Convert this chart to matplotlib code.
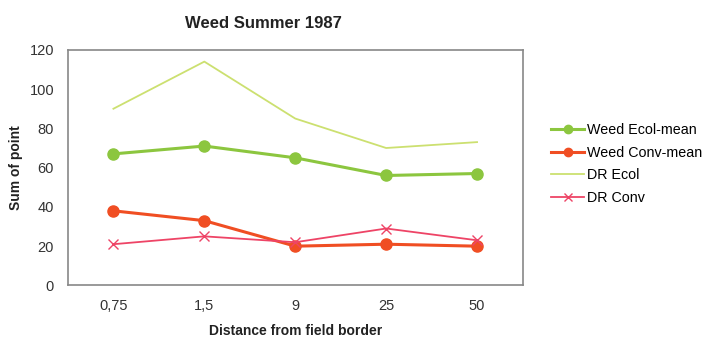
import matplotlib.pyplot as plt

# Distance categories and values
distances = ['0,75', '1,5', '9', '25', '50']
weed_ecol = [67, 71, 65, 56, 57]
weed_conv = [38, 33, 20, 21, 20]
dr_ecol = [90, 114, 85, 70, 73]
dr_conv = [21, 25, 22, 29, 23]

plt.rcParams['font.family'] = ['Liberation Sans', 'DejaVu Sans']

fig = plt.figure(figsize=(7.08, 3.39), dpi=100)
ax = fig.add_axes([0.096, 0.158, 0.642, 0.695])

x = range(len(distances))
ax.plot(x, weed_ecol, color='#8cc63f', lw=2.2, marker='o', ms=8, label='Weed Ecol-mean')
ax.plot(x, weed_conv, color='#f04e23', lw=2.2, marker='o', ms=8, label='Weed Conv-mean')
ax.plot(x, dr_ecol, color='#cce070', lw=1.3, label='DR Ecol')
ax.plot(x, dr_conv, color='#ee4466', lw=1.3, marker='x', ms=7, label='DR Conv')

ax.set_xlim(-0.5, len(distances) - 0.5)
ax.set_ylim(0, 120)
ax.set_yticks(range(0, 121, 20))
ax.set_xticks(list(x))
ax.set_xticklabels(distances)
ax.tick_params(length=0, labelsize=10.5, colors='#333333', pad=10)
for s in ax.spines.values():
    s.set_color('#888888')
    s.set_linewidth(1.2)

ax.set_title('Weed Summer 1987', fontsize=12, fontweight='bold', pad=16, x=0.43, color='#222222')
ax.set_xlabel('Distance from field border', fontsize=10, fontweight='bold', labelpad=8, color='#222222')
ax.set_ylabel('Sum of point', fontsize=10, fontweight='bold', labelpad=5, color='#222222')

ax.legend(loc='center left', bbox_to_anchor=(1.035, 0.515), frameon=False, fontsize=10.3,
          handlelength=2.3, handletextpad=0.2, labelspacing=0.6, markerscale=0.75)

plt.savefig('out.png', dpi=100)
